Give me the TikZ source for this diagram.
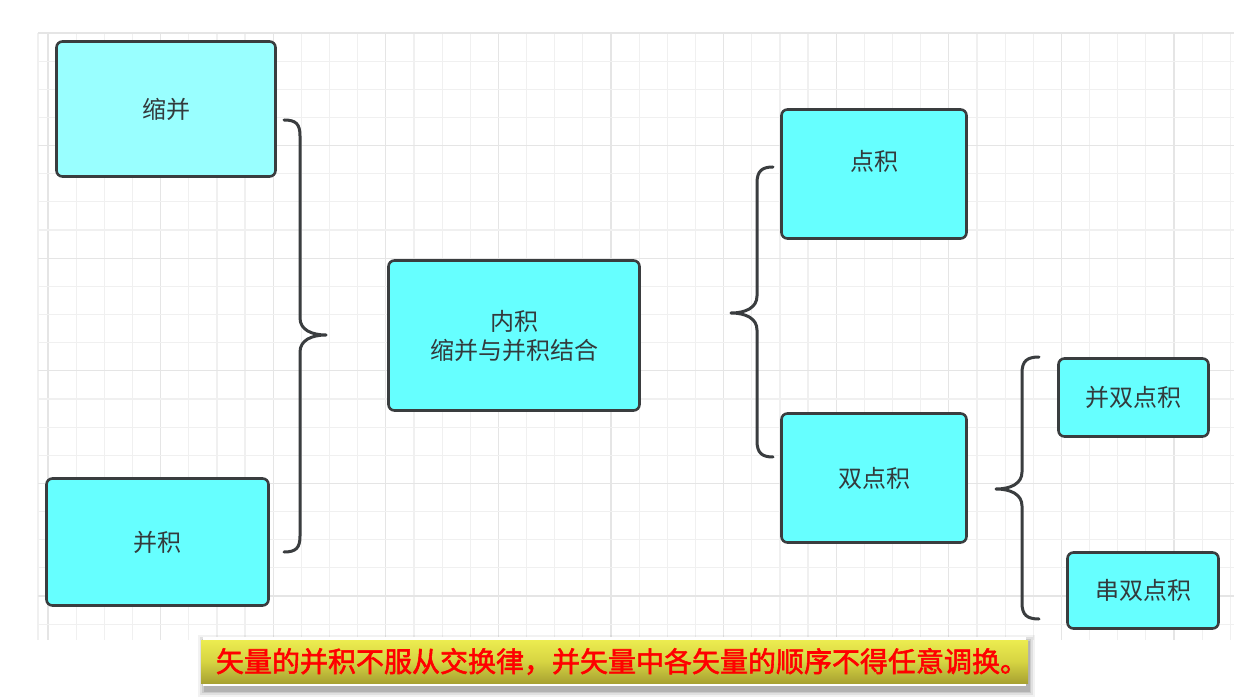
\documentclass[tikz,border=0pt]{standalone}
\usepackage{fontspec}
\setmainfont{Noto Sans CJK SC}
\newfontfamily\banfont{Noto Sans CJK SC}[FakeBold=2]
\begin{document}
\begin{tikzpicture}[x=1pt,y=-1pt,
  gridminor/.style={draw=black!6,line width=1.2pt},
  gridmajor/.style={draw=black!10,line width=1.3pt},
  box/.style={rectangle,rounded corners=6pt,draw=boxline,line width=2.6pt,fill=cyanfill,inner sep=0pt,align=center,text=txtgray,font=\fontsize{24}{29}\selectfont},
  txt/.style={inner sep=0pt,text=txtgray,font=\fontsize{24}{29}\selectfont},
  bracepath/.style={draw=boxline,line width=3pt,line cap=round,line join=round},
  banner/.style={rectangle,inner sep=0pt,minimum width=815,minimum height=43,top color=bantop,bottom color=banbot,middle color=banmid,text=red,font=\banfont\fontsize{28}{32}\selectfont}
]
\definecolor{boxline}{HTML}{3A3D3F}
\definecolor{cyanfill}{HTML}{66FFFF}
\definecolor{cyanlight}{HTML}{99FFFF}
\definecolor{txtgray}{HTML}{333A3C}
\definecolor{bantop}{HTML}{ECEC50}
\definecolor{banmid}{HTML}{D6D442}
\definecolor{banbot}{HTML}{A8A232}
\useasboundingbox (0,0) rectangle (1234,700);
\fill[white] (0,0) rectangle (1234,700);
% grid
\draw[gridminor] (38,33) -- (38,640);
\foreach \i in {0,...,42} {
  \pgfmathsetmacro\xx{48+\i*28.15}
  \pgfmathtruncatemacro\m{mod(\i,4)}
  \ifnum\m=0 \draw[gridmajor] (\xx,33) -- (\xx,640); \else \draw[gridminor] (\xx,33) -- (\xx,640); \fi
}
\foreach \j in {0,...,21} {
  \pgfmathsetmacro\yy{33+\j*28.15}
  \pgfmathtruncatemacro\m{mod(\j,4)}
  \ifnum\m=0 \draw[gridmajor] (38,\yy) -- (1234,\yy); \else \draw[gridminor] (38,\yy) -- (1234,\yy); \fi
}
% boxes
\node[box,fill=cyanlight,minimum width=219,minimum height=135] (suobing) at (166,109) {缩并};
\node[box,minimum width=222,minimum height=127] (bingji) at (157.5,542) {并积};
\node[box,minimum width=251,minimum height=150] (neiji) at (514,335.5) {内积\\缩并与并积结合};
\node[box,minimum width=185,minimum height=129] (dianji) at (874,174) {};
\node[txt] (dianjit) at (874,161) {点积};
\node[box,minimum width=185,minimum height=129] (shuangdian) at (874,478) {双点积};
\node[box,minimum width=150,minimum height=78] (bingshuang) at (1133.5,397.5) {并双点积};
\node[box,minimum width=151,minimum height=76] (chuanshuang) at (1143,590.5) {串双点积};
% braces
\coordinate (b1top) at (284,120);
\coordinate (b1tip) at (326,335);
\coordinate (b1bot) at (284,552);
\draw[bracepath] (b1top) .. controls (296,120) and (300,124) .. (300,136) -- (300,318)
  .. controls (300,330) and (312,335) .. (b1tip) .. controls (312,335) and (300,340) .. (300,352)
  -- (300,536) .. controls (300,548) and (296,552) .. (b1bot);
\coordinate (b2top) at (773,167);
\coordinate (b2tip) at (731,313);
\coordinate (b2bot) at (773,457);
\draw[bracepath] (b2top) .. controls (762,167) and (757,171) .. (757,183) -- (757,296)
  .. controls (757,308) and (745,313) .. (b2tip) .. controls (745,313) and (757,318) .. (757,330)
  -- (757,441) .. controls (757,453) and (762,457) .. (b2bot);
\coordinate (b3top) at (1039,357);
\coordinate (b3tip) at (996,489);
\coordinate (b3bot) at (1039,619);
\draw[bracepath] (b3top) .. controls (1027,357) and (1022,361) .. (1022,373) -- (1022,472)
  .. controls (1022,484) and (1010,489) .. (b3tip) .. controls (1010,489) and (1022,494) .. (1022,506)
  -- (1022,603) .. controls (1022,615) and (1027,619) .. (b3bot);
% banner shadow
\foreach \k/\o in {7/0.05,5/0.07,3/0.09,1.5/0.12} {
  \fill[black,opacity=\o] (203-\k+2,637-\k+5) rectangle (1026+\k+2,686+\k+4);
}
\fill[white] (203,637) rectangle (1026,686);
\node[banner] (note) at (614.5,661.5) {\hspace*{15pt}矢量的并积不服从交换律，并矢量中各矢量的顺序不得任意调换。};
\end{tikzpicture}
\end{document}
